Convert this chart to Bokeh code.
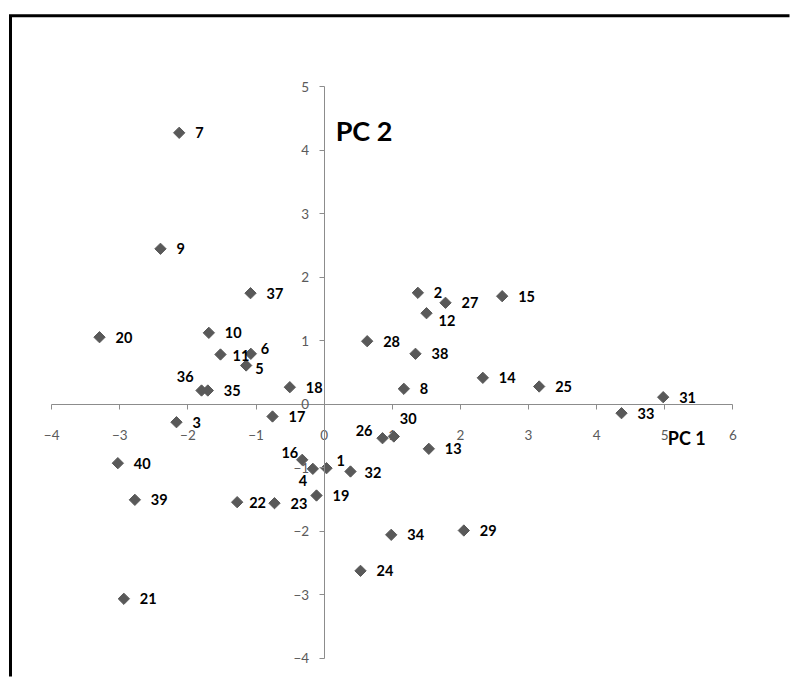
import math
from bokeh.plotting import figure
from bokeh.models import (ColumnDataSource, LinearAxis, FixedTicker, Range1d, Label)
from bokeh.core.properties import value
from bokeh.embed import file_html
from bokeh.resources import INLINE

# ---- data -------------------------------------------------------------
point_ids = [str(i) for i in range(1, 41)]
pc1 = [0.035, 1.376, -2.168, -0.166, -1.145, -1.076, -2.128, 1.170, -2.403, -1.693,
       -1.522, 1.503, 1.537, 2.330, 2.614, -0.322, -0.758, -0.504, -0.112, -3.298,
       -2.941, -1.277, -0.729, 0.534, 3.157, 0.857, 1.782, 0.632, 2.051, 1.023,
       4.978, 0.387, 4.366, 0.985, -1.708, -1.800, -1.081, 1.341, -2.779, -3.029]
pc2 = [-1.009, 1.752, -0.285, -1.019, 0.608, 0.792, 4.271, 0.241, 2.445, 1.122,
       0.781, 1.431, -0.704, 0.414, 1.699, -0.877, -0.195, 0.266, -1.439, 1.053,
       -3.065, -1.544, -1.560, -2.625, 0.277, -0.537, 1.595, 0.990, -1.990, -0.510,
       0.109, -1.061, -0.143, -2.058, 0.214, 0.214, 1.746, 0.792, -1.507, -0.930]
x_ticks = [-4, -3, -2, -1, 0, 1, 2, 3, 4, 5, 6]
y_ticks = [-4, -3, -2, -1, 0, 1, 2, 3, 4, 5]
x_title = "PC 1"
y_title = "PC 2"

# ---- label placement (pixels), separate from data ---------------------
dx = [16.0] * 40
dy = [0.0] * 40
align = ["left"] * 40
special = {
    "1": (10, -8, "left"), "4": (-10, 12, "center"), "16": (-4, -7, "right"),
    "26": (-10, -8, "right"), "30": (6, -18, "left"), "36": (-8, -14, "right"),
    "12": (12, 7, "left"), "11": (12, 1, "left"), "6": (10, -5, "left"),
    "5": (9, 3, "left"), "22": (12, 0, "left"), "32": (14, 1, "left"),
}
for i, pid in enumerate(point_ids):
    if pid in special:
        dx[i], dy[i], align[i] = special[pid]

FONT = "Lato"
W, H = 790, 677
MR, MB = 1, 1
# pixel mapping of the reference: 68.11 px per PC1 unit, 63.52 px per PC2 unit
x0_px, y0_px = 323.64, 403.6
sx, sy = 68.11, 63.52
x_start = -x0_px / sx
x_end = (W - MR - x0_px) / sx
y_end = y0_px / sy
y_start = -(H - MB - y0_px) / sy

p = figure(width=W, height=H, output_backend="svg", toolbar_location=None,
           x_range=Range1d(x_start, x_end), y_range=Range1d(y_start, y_end),
           x_axis_type=None, y_axis_type=None, title=None,
           min_border=0, min_border_left=0, min_border_right=MR,
           min_border_top=0, min_border_bottom=MB)
p.outline_line_color = None
p.xgrid.visible = False
p.ygrid.visible = False
p.background_fill_color = "white"
p.border_fill_color = "white"

# chart box border (left & top edges visible; right/bottom run off the page)
bx = x_start + 10.0 / sx
by = y_end - 15.3 / sy
p.line([bx, bx, x_end + 1], [y_start - 1, by, by], line_color="black",
       line_width=3, line_join="miter")

AX = "#8c8c8c"
xaxis = LinearAxis(fixed_location=0, bounds=(x_ticks[0], x_ticks[-1]),
                   ticker=FixedTicker(ticks=x_ticks))
yaxis = LinearAxis(fixed_location=0, bounds=(y_ticks[0], y_ticks[-1]),
                   ticker=FixedTicker(ticks=y_ticks))
for ax in (xaxis, yaxis):
    ax.axis_line_color = AX
    ax.axis_line_width = 1
    ax.major_tick_line_color = AX
    ax.major_tick_out = 5
    ax.major_tick_in = 0
    ax.minor_tick_line_color = None
    ax.major_label_text_font = FONT
    ax.major_label_text_font_size = "13.5px"
    ax.major_label_text_color = "#5a5a5a"
xaxis.major_label_standoff = 21
yaxis.major_label_standoff = 10
p.add_layout(xaxis, "below")
p.add_layout(yaxis, "left")

src = ColumnDataSource(dict(x=pc1, y=pc2, label=point_ids, dx=dx, dy=dy, align=align))
p.scatter("x", "y", source=src, marker="square", angle=math.pi / 4, size=8,
          fill_color="#595959", line_color="#595959")
p.text("x", "y", text="label", source=src, x_offset="dx", y_offset="dy",
       text_align="align", text_baseline="middle",
       text_font=value(FONT), text_font_style="bold", text_font_size="14.5px",
       text_color="black")

p.add_layout(Label(x=0, y=4.307, x_offset=11.5, text=y_title, text_font=FONT,
                   text_font_style="bold", text_font_size="27px",
                   text_color="black", text_baseline="middle", text_align="left"))
p.add_layout(Label(x=5.046, y=-0.534, text=x_title, text_font=FONT,
                   text_font_style="bold", text_font_size="18px",
                   text_color="black", text_baseline="middle", text_align="left"))

open("out.html", "w").write(file_html(p, INLINE))
